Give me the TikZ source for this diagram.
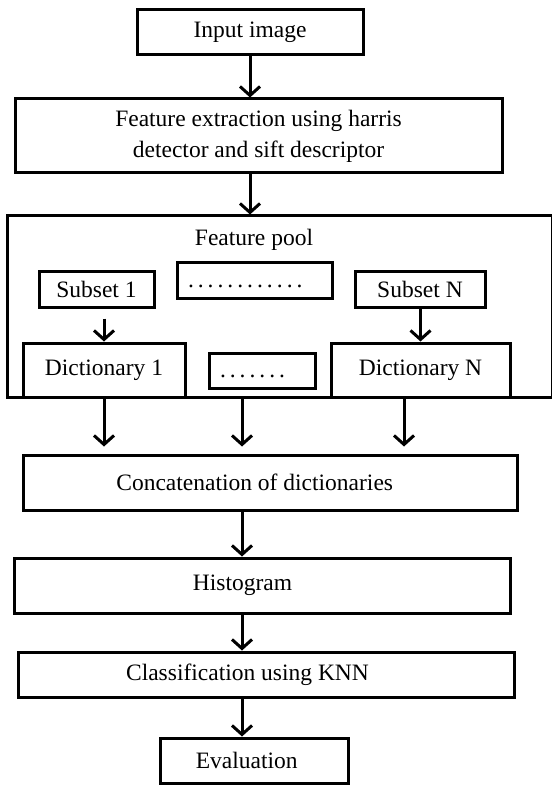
\documentclass[tikz,border=0pt]{standalone}
\usepackage{fontspec}
\setmainfont{Liberation Serif}
\usetikzlibrary{arrows.meta}
\usetikzlibrary{arrows.meta, positioning}

\begin{document}
\begin{tikzpicture}[
    x=1pt, y=-1pt,
    ->,
    >={Straight Barb[length=9pt, width=20pt]},
    line width=3pt,
    every node/.style={font=\fontsize{23.5}{31}\selectfont},
    block/.style={draw, rectangle, line width=3pt, inner sep=0pt},
    dotbox/.style={draw, rectangle, line width=3pt, inner xsep=11pt, inner ysep=0pt,
        align=left, text depth=0pt,
        execute at begin node={\spaceskip=4pt\xspaceskip=4pt}}
]
\useasboundingbox (0,0) rectangle (551,786);

% Nodes
\node[block, minimum width=226pt, minimum height=45pt] (input) at (250,32.5) {Input image};
\node[block, minimum width=487pt, minimum height=74pt, align=center] (feat) at (258.5,136)
    {Feature extraction using harris\\detector and sift descriptor};

% Feature pool
\node[block, minimum width=545pt, minimum height=181pt,
    label={[xshift=-25.5pt, yshift=66.5pt]center:Feature pool}] (pool) at (279.5,306.5) {};
\node[block, minimum width=115pt, minimum height=36pt] (sub1) at (96.5,289) {Subset 1};
\node[dotbox, text width=133pt, text height=14pt, minimum height=36pt] (dotsA) at (254.5,280)
    {. . . . . . . . . . . .};
\node[block, minimum width=130pt, minimum height=36pt] (subN) at (420,289) {Subset N};
\node[block, minimum width=162pt, minimum height=54pt] (dict1) at (104,370) {Dictionary 1};
\node[dotbox, text width=84pt, text height=13pt, minimum height=35pt] (dotsB) at (262,370.5)
    {. . . . . . .};
\node[block, minimum width=179pt, minimum height=54pt] (dictN) at (420.5,370) {Dictionary N};

% Lower chain
\coordinate (spine) at (242,0);
\node[block, minimum width=494pt, minimum height=55pt,
    label={[xshift=-15.3pt]center:Concatenation of dictionaries}] (concat) at (270,482.5) {};
\node[block, minimum width=496pt, minimum height=55pt,
    label={[xshift=-19.5pt]center:Histogram}] (hist) at (262,585.5) {};
\node[block, minimum width=496pt, minimum height=45pt,
    label={[xshift=-18.5pt]center:Classification using KNN}] (classif) at (266,674.5) {};
\node[block, minimum width=188pt, minimum height=45pt,
    label={[xshift=-7.3pt]center:Evaluation}] (eval) at (254,760.5) {};

% Arrows
\draw (input) -- (input |- feat.north);
\draw (input.south |- feat.south) -- (input.south |- pool.north);
\draw[shorten <=10pt] (sub1.south -| dict1.north) -- (dict1.north);
\draw (subN.south -| dictN.north) -- (dictN.north);
\draw[shorten >=7pt] (dict1.south) -- (dict1.south |- concat.north);
\draw[shorten >=7pt] (spine |- pool.south) -- (spine |- concat.north);
\draw[shorten >=7pt] ([xshift=-16.5pt]dictN.south) -- ([xshift=-16.5pt]dictN.south |- concat.north);
\draw (spine |- concat.south) -- (spine |- hist.north);
\draw (spine |- hist.south) -- (spine |- classif.north);
\draw (spine |- classif.south) -- (spine |- eval.north);

\end{tikzpicture}
\end{document}
